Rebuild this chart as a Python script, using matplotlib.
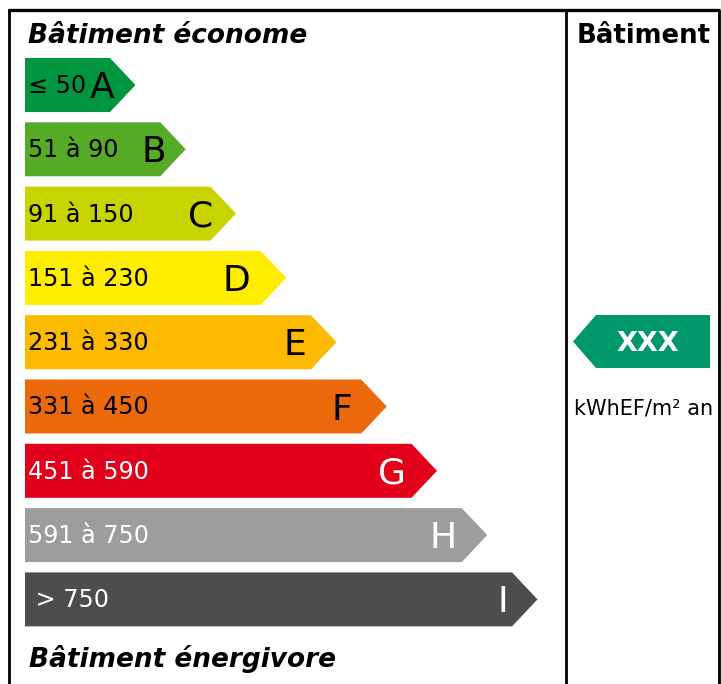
import matplotlib
matplotlib.use("Agg")
import matplotlib.pyplot as plt
from matplotlib.patches import Polygon

classes = ["A", "B", "C", "D", "E", "F", "G", "H", "I"]
ranges = ["≤ 50", "51 à 90", "91 à 150", "151 à 230", "231 à 330",
          "331 à 450", "451 à 590", "591 à 750", " > 750"]
colors = ["#009640", "#55AB26", "#C8D400", "#FFED00", "#FBBA00",
          "#EB690B", "#E2001A", "#9D9D9C", "#4D4C4E"]
text_colors = ["black"] * 6 + ["white"] * 3
value_label = "XXX"
unit_label = "kWhEF/m² an"

# layout, in pixels of the 721x684 canvas
W, H = 721, 684
x0 = 25
top0, pitch, bar_h = 58, 64.3, 54
end0, step, tip = 110, 50.25, 25.5
letter_shift = [4, 6, 3, -11, -5, -9, -5, -5, -4]

fig = plt.figure(figsize=(W / 100, H / 100), dpi=100)
ax = fig.add_axes([0, 0, 1, 1])
ax.set_xlim(0, W)
ax.set_ylim(H, 0)
ax.axis("off")

for i, (cls, rng, col, tc) in enumerate(zip(classes, ranges, colors, text_colors)):
    top = top0 + i * pitch
    bot = top + bar_h
    end = end0 + i * step
    poly = Polygon([(x0, top), (end, top), (end + tip, (top + bot) / 2),
                    (end, bot), (x0, bot)], closed=True, facecolor=col,
                   edgecolor="none")
    ax.add_patch(poly)
    ax.text(x0 + 3, top + 35, rng, fontsize=17.2, color=tc, ha="left",
            va="baseline")
    ax.text(end + letter_shift[i], top + 40, cls, fontsize=26, color=tc,
            ha="right", va="baseline")

# frame
lw = 2.0
ax.plot([9, 9], [9, H + 5], color="black", lw=lw, solid_capstyle="butt")
ax.plot([8, 720], [10, 10], color="black", lw=lw * 1.2, solid_capstyle="butt")
ax.plot([565.5, 565.5], [10, H + 5], color="black", lw=lw, solid_capstyle="butt")
ax.plot([719, 719], [10, H + 5], color="black", lw=lw, solid_capstyle="butt")

ax.text(28, 43, "Bâtiment économe", fontsize=19, fontweight="bold",
        fontstyle="italic", ha="left", va="baseline")
ax.text(29, 667, "Bâtiment énergivore", fontsize=19, fontweight="bold",
        fontstyle="italic", ha="left", va="baseline")
ax.text(644, 43, "Bâtiment", fontsize=18.7, fontweight="bold",
        ha="center", va="baseline")

# value arrow
a_top, a_bot, a_tip, a_left, a_right = 315, 368, 573, 596, 710
ax.add_patch(Polygon([(a_tip, (a_top + a_bot) / 2), (a_left, a_top),
                      (a_right, a_top), (a_right, a_bot), (a_left, a_bot)],
                     closed=True, facecolor="#00976B", edgecolor="none"))
ax.text(648, 351, value_label, fontsize=19.5, fontweight="bold", color="white",
        ha="center", va="baseline")
ax.text(643.5, 415, unit_label, fontsize=15, ha="center", va="baseline")

fig.savefig("out.png", dpi=100)
